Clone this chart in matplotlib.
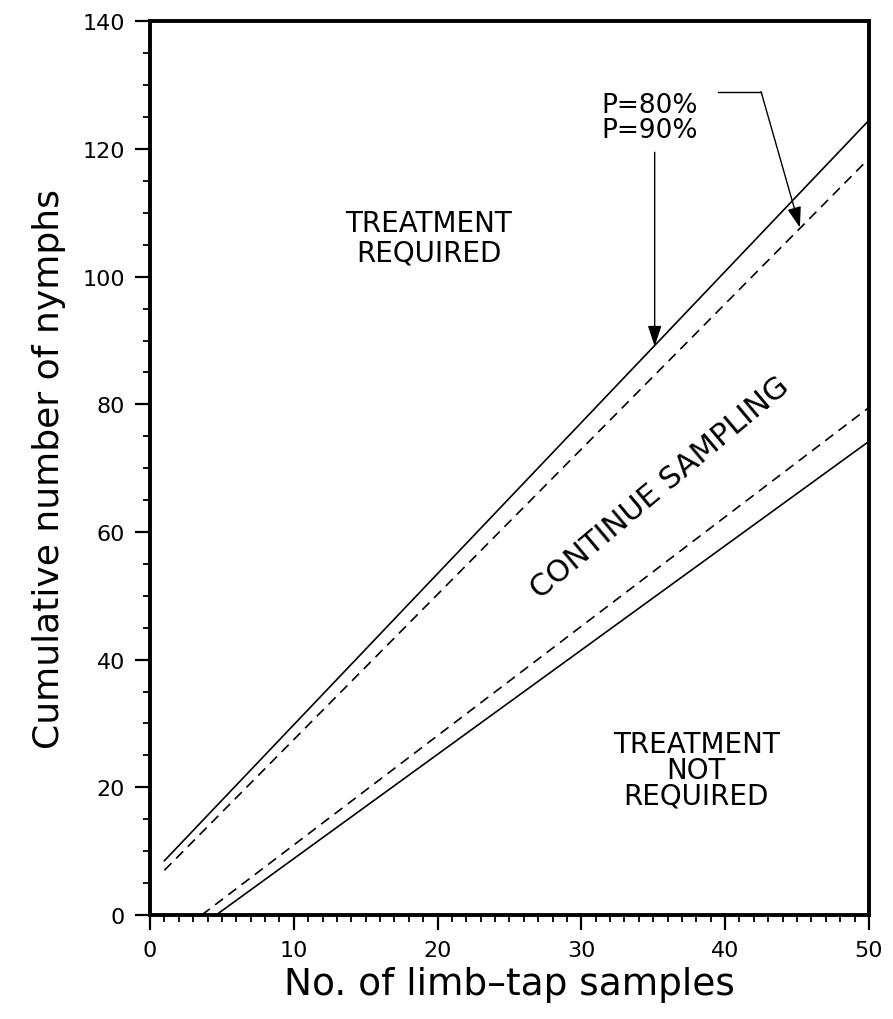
import matplotlib.pyplot as plt
from matplotlib.ticker import MultipleLocator

# decision lines (end points) for the sequential sampling plan
x_upper = [1, 50]
upper_90 = [8.5, 124.5]
upper_80 = [7.0, 118.5]
x_lower_80 = [3.6, 50]
lower_80 = [0.0, 79.5]
x_lower_90 = [4.6, 50]
lower_90 = [0.0, 74.2]

fig = plt.figure(figsize=(8.93, 10.2), dpi=100)
ax = fig.add_axes([0.168, 0.102, 0.805, 0.876])

ax.plot(x_upper, upper_90, color='black', lw=1.2)
ax.plot(x_upper, upper_80, color='black', lw=1.2, ls=(0, (6, 4)))
ax.plot(x_lower_80, lower_80, color='black', lw=1.2, ls=(0, (6, 4)))
ax.plot(x_lower_90, lower_90, color='black', lw=1.2)

ax.set_xlim(0, 50)
ax.set_ylim(0, 140)
ax.xaxis.set_major_locator(MultipleLocator(10))
ax.xaxis.set_minor_locator(MultipleLocator(1))
ax.yaxis.set_major_locator(MultipleLocator(20))
ax.yaxis.set_minor_locator(MultipleLocator(5))
ax.tick_params(which='major', direction='out', length=11, width=1.6, labelsize=16, pad=7)
ax.tick_params(which='minor', direction='out', length=5, width=1.3)
for s in ax.spines.values():
    s.set_linewidth(2.8)

ax.set_xlabel('No. of limb\u2013tap samples', fontsize=27, labelpad=4)
ax.set_ylabel('Cumulative number of nymphs', fontsize=26, labelpad=12)

ax.text(19.4, 106.1, 'TREATMENT\nREQUIRED', ha='center', va='center',
        fontsize=20, linespacing=1.1)
ax.text(35.5, 67.0, 'CONTINUE SAMPLING', ha='center', va='center',
        fontsize=22, rotation=40, rotation_mode='anchor')
ax.text(38.0, 22.7, 'TREATMENT\nNOT\nREQUIRED', ha='center', va='center',
        fontsize=20, linespacing=0.9)

ax.text(31.4, 125.0, 'P=80%\nP=90%', ha='left', va='center',
        fontsize=19, linespacing=0.95)

# arrows from the labels to the lines
head = '-|>,head_length=0.9,head_width=0.3'
ax.annotate('', xy=(35.1, 89.1), xytext=(35.1, 119.5),
            arrowprops=dict(arrowstyle=head, color='black', lw=1.0,
                            mutation_scale=14, shrinkA=0, shrinkB=0))
ax.plot([39.5, 42.5], [129.0, 129.0], color='black', lw=1.0)
ax.annotate('', xy=(45.2, 107.7), xytext=(42.5, 129.0),
            arrowprops=dict(arrowstyle=head, color='black', lw=1.0,
                            mutation_scale=14, shrinkA=0, shrinkB=0))

fig.savefig('out.png', dpi=100)
